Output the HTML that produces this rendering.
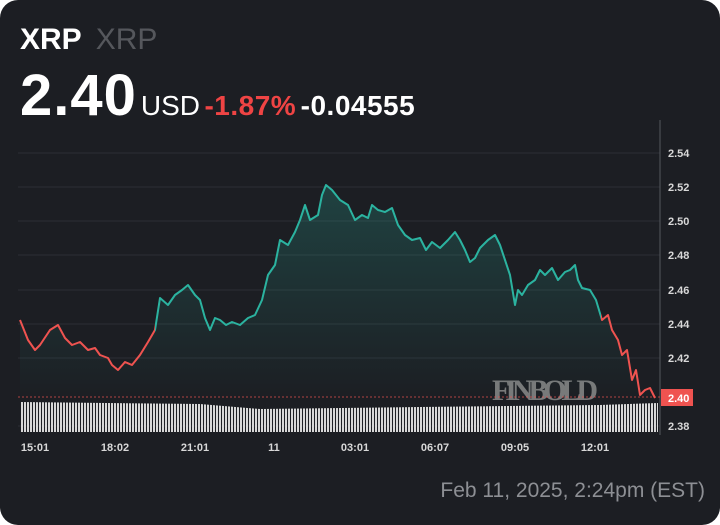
<!DOCTYPE html>
<html><head><style>
body{margin:0;background:#fff}
.c{width:720px;height:525px;background:#1c1e23;border-radius:18px;position:relative;overflow:hidden;font-family:"Liberation Sans",sans-serif}
.t{position:absolute;left:20px;top:23px;font-size:30px;font-weight:bold;color:#fff}
.t span{color:#55575c;font-weight:normal;margin-left:14px}
.p{position:absolute;left:20px;top:62px;color:#fff;white-space:nowrap}
.f{position:absolute;right:15px;top:479px;color:#8d8f94;font-size:21px}
</style></head><body><div class="c">
<div class="t">XRP<span>XRP</span></div>
<div class="p"><span style="font-size:58px;font-weight:bold;letter-spacing:1px">2.40</span><span style="font-size:28px;margin-left:4px">USD</span> <span style="font-size:28px;font-weight:bold;color:#ef4444;letter-spacing:0.5px">-1.87%</span> <span style="font-size:28px;font-weight:bold;letter-spacing:0.5px">-0.04555</span></div>
<svg width="720" height="525" style="position:absolute;left:0;top:0">
<defs>
<linearGradient id="s" x1="0" x2="720" gradientUnits="userSpaceOnUse">
<stop offset="0.215" stop-color="#ef5350"/><stop offset="0.215" stop-color="#2bb3a0"/><stop offset="0.835" stop-color="#2bb3a0"/><stop offset="0.835" stop-color="#ef5350"/></linearGradient>
<linearGradient id="a" x1="0" y1="180" x2="0" y2="400" gradientUnits="userSpaceOnUse"><stop offset="0" stop-color="#2bb3a0" stop-opacity="0.25"/><stop offset="1" stop-color="#2bb3a0" stop-opacity="0"/></linearGradient>
<pattern id="v" width="3" height="40" patternUnits="userSpaceOnUse"><rect width="2" height="40" fill="#d8d8d8"/></pattern>
</defs>
<g stroke="#2c2f35" stroke-width="1">
<line x1="18" x2="660" y1="153" y2="153"/><line x1="18" x2="660" y1="187" y2="187"/><line x1="18" x2="660" y1="221" y2="221"/><line x1="18" x2="660" y1="255" y2="255"/><line x1="18" x2="660" y1="290" y2="290"/><line x1="18" x2="660" y1="324" y2="324"/><line x1="18" x2="660" y1="358" y2="358"/><line x1="18" x2="660" y1="426" y2="426"/>
</g>
<line x1="660" x2="660" y1="120" y2="435" stroke="#55585e"/>
<g fill="#d8d8d8" font-size="11" font-weight="bold">
<text x="668" y="157">2.54</text><text x="668" y="191">2.52</text><text x="668" y="225">2.50</text><text x="668" y="259">2.48</text><text x="668" y="294">2.46</text><text x="668" y="328">2.44</text><text x="668" y="362">2.42</text><text x="668" y="430">2.38</text>
</g>
<text x="492" y="400" font-family="Liberation Serif" font-size="30" font-weight="bold" fill="#8a8a8a" opacity="0.85" textLength="106">FINBOLD</text>
<polygon points="20,402 200,404 260,409 420,407 600,405 658,403 658,432 20,432" fill="url(#v)"/>
<line x1="18" x2="660" y1="397" y2="397" stroke="#ef5350" stroke-dasharray="2,2" opacity="0.7"/>
<path d="M20,320 L28,340 35,350 40,345 50,330 58,325 65,338 72,345 80,342 88,350 95,348 100,355 108,358 112,365 118,370 125,362 132,365 140,355 148,342 155,330 160,298 168,305 175,295 182,290 188,285 195,295 200,300 205,318 210,330 215,318 220,320 226,325 232,322 240,325 248,318 255,315 262,300 268,275 275,265 280,240 288,245 295,232 300,220 305,205 310,220 318,215 322,195 326,185 332,190 340,200 348,205 355,220 362,215 368,218 372,205 378,210 385,212 392,208 398,225 405,235 412,240 420,238 426,250 432,242 440,248 448,240 455,232 460,240 465,250 470,262 475,258 480,248 488,240 495,235 500,245 505,260 510,275 515,305 518,290 522,295 528,285 535,280 540,270 545,275 552,268 558,280 565,272 570,270 575,265 578,280 582,288 590,290 596,300 602,320 608,315 612,330 618,340 622,355 627,350 632,380 636,370 640,395 645,390 650,388 655,398 L655,400 L20,400Z" fill="url(#a)"/>
<polyline fill="none" stroke="url(#s)" stroke-width="2" stroke-linejoin="round" points="20,320 28,340 35,350 40,345 50,330 58,325 65,338 72,345 80,342 88,350 95,348 100,355 108,358 112,365 118,370 125,362 132,365 140,355 148,342 155,330 160,298 168,305 175,295 182,290 188,285 195,295 200,300 205,318 210,330 215,318 220,320 226,325 232,322 240,325 248,318 255,315 262,300 268,275 275,265 280,240 288,245 295,232 300,220 305,205 310,220 318,215 322,195 326,185 332,190 340,200 348,205 355,220 362,215 368,218 372,205 378,210 385,212 392,208 398,225 405,235 412,240 420,238 426,250 432,242 440,248 448,240 455,232 460,240 465,250 470,262 475,258 480,248 488,240 495,235 500,245 505,260 510,275 515,305 518,290 522,295 528,285 535,280 540,270 545,275 552,268 558,280 565,272 570,270 575,265 578,280 582,288 590,290 596,300 602,320 608,315 612,330 618,340 622,355 627,350 632,380 636,370 640,395 645,390 650,388 655,398"/>
<rect x="661" y="389" width="32" height="17" fill="#ef5350"/>
<text x="668" y="402" fill="#fff" font-size="11" font-weight="bold">2.40</text>
<g fill="#d8d8d8" font-size="11" font-weight="bold" text-anchor="middle">
<text x="35" y="451">15:01</text><text x="115" y="451">18:02</text><text x="195" y="451">21:01</text><text x="274" y="451">11</text><text x="355" y="451">03:01</text><text x="435" y="451">06:07</text><text x="515" y="451">09:05</text><text x="595" y="451">12:01</text>
</g>
</svg>
<div class="f">Feb 11, 2025, 2:24pm (EST)</div>
</div></body></html>
